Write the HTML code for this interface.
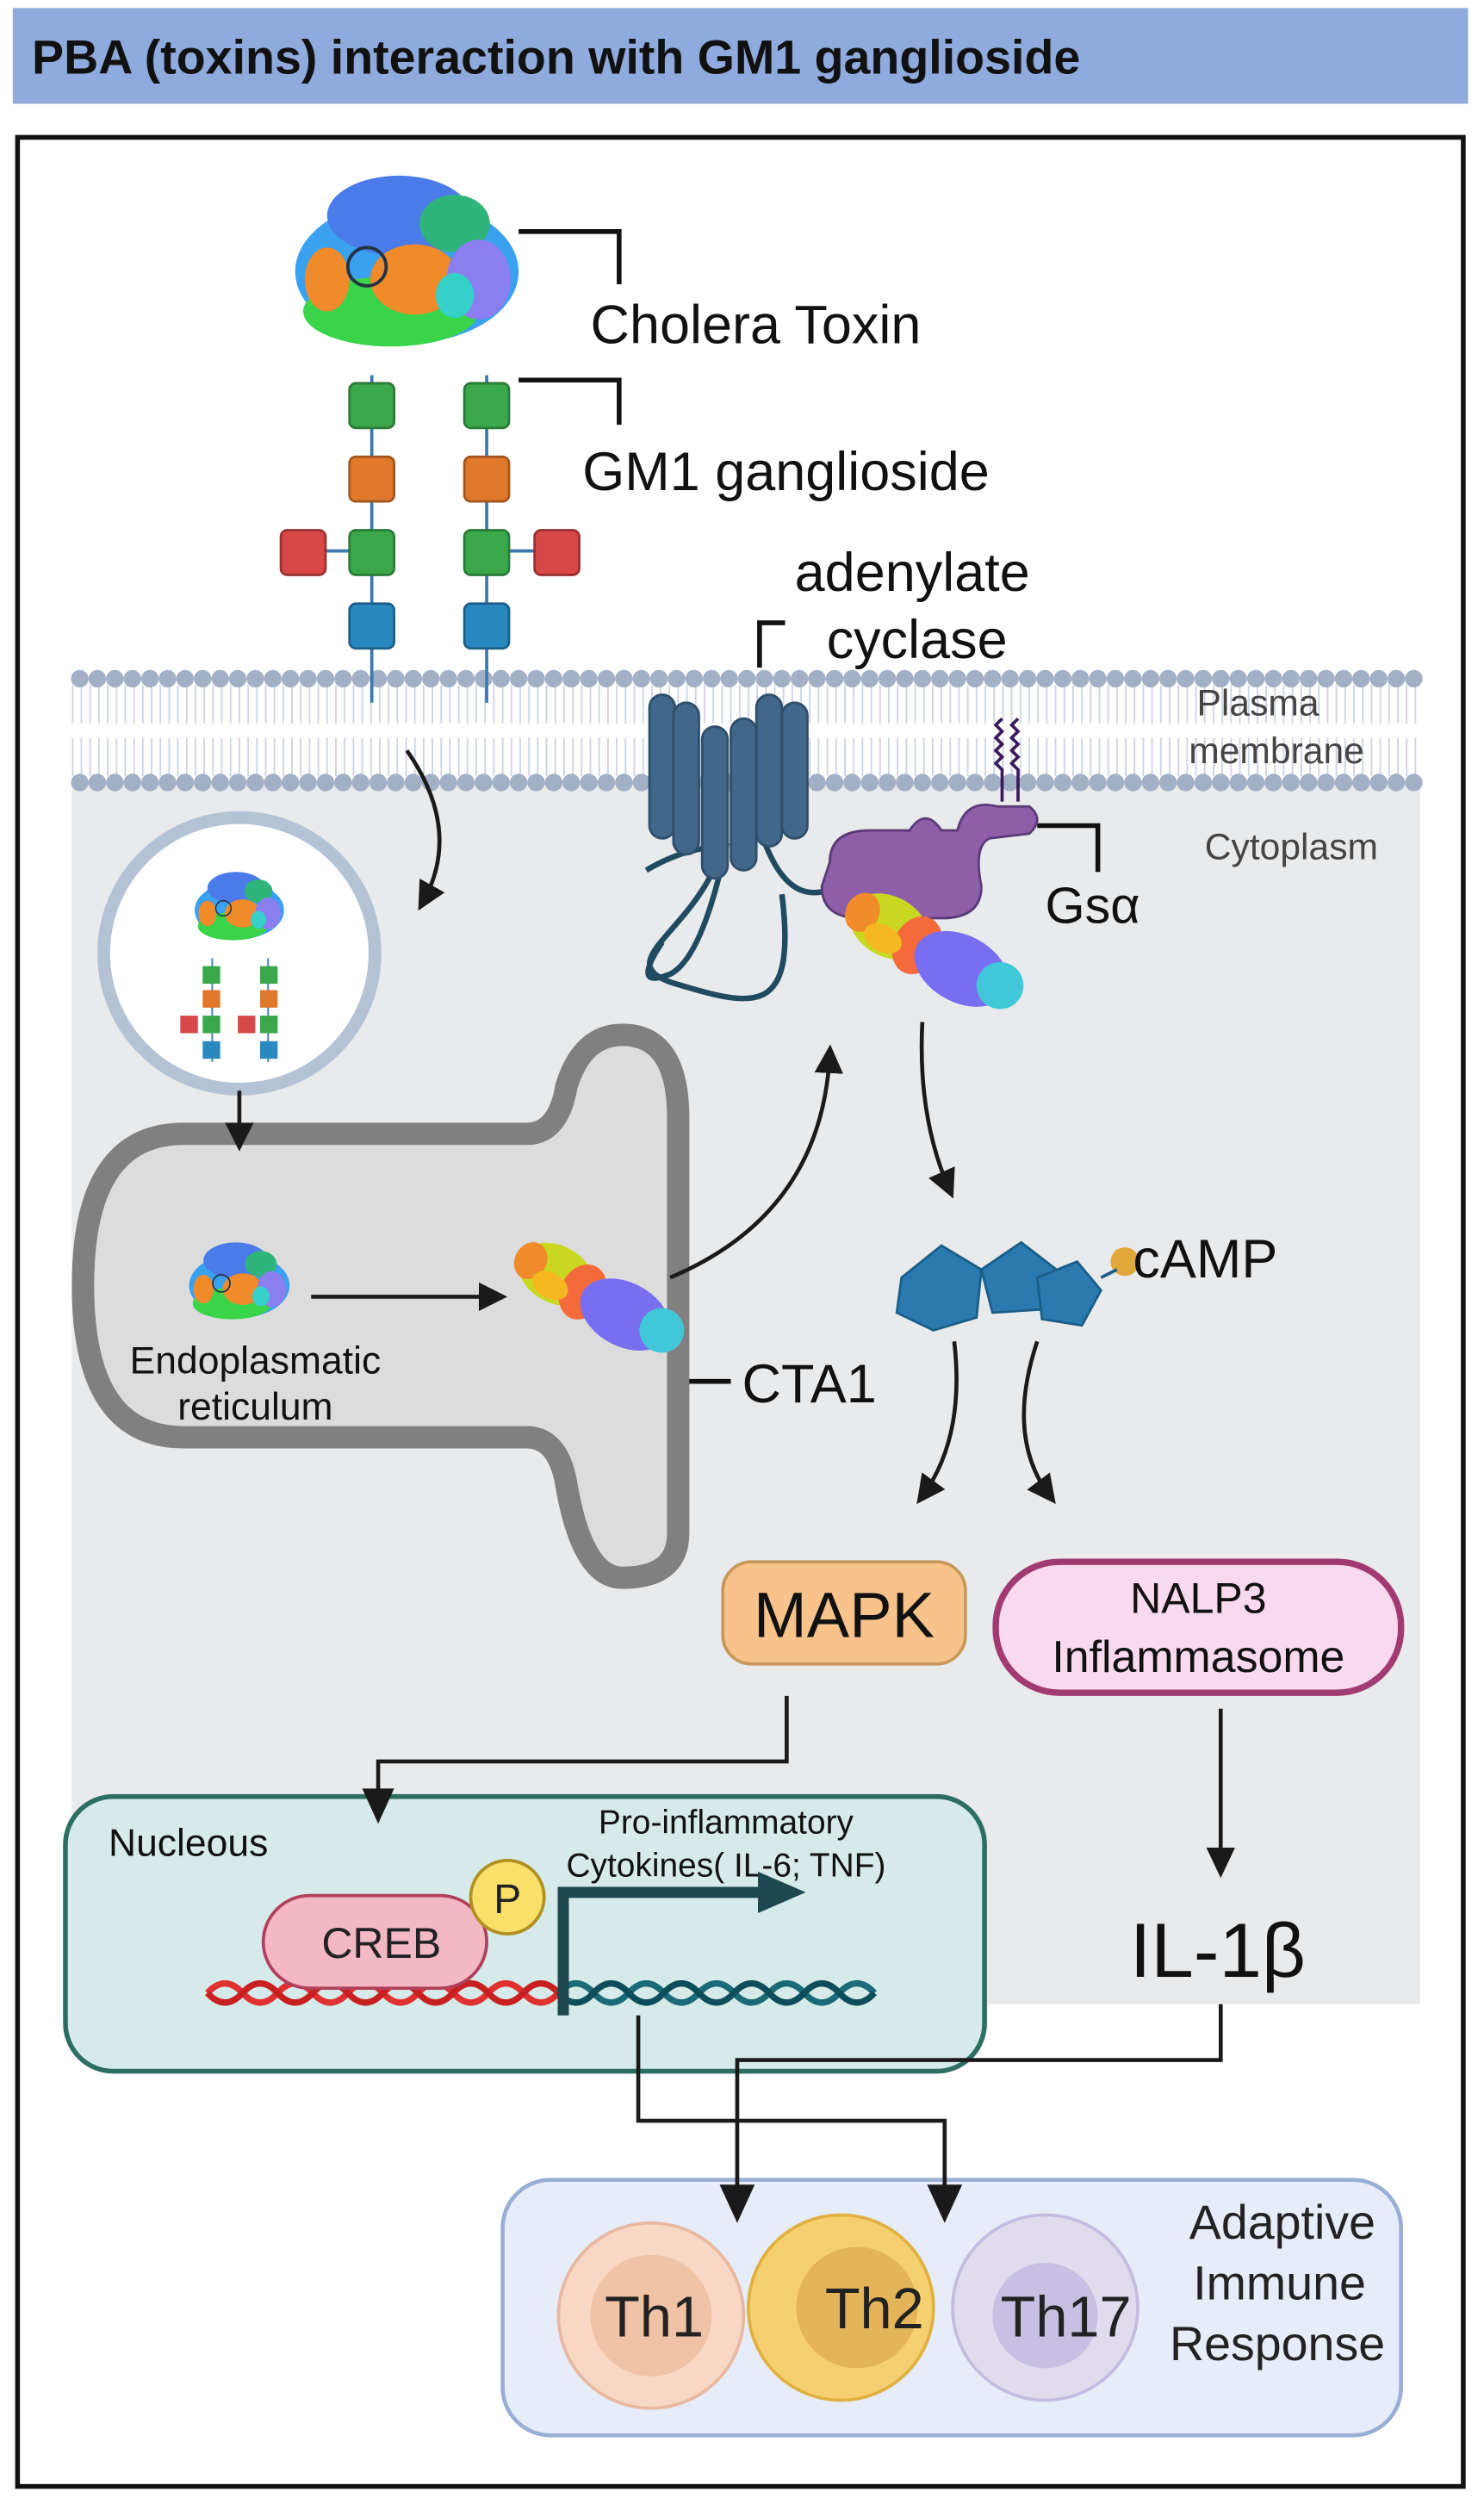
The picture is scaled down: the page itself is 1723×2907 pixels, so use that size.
<!DOCTYPE html>
<html><head><meta charset="utf-8"><style>
html,body{margin:0;padding:0;background:#fff}
svg{display:block}
text{font-family:"Liberation Sans",sans-serif}
</style></head><body>
<svg width="1723" height="2907" viewBox="0 0 930 1568" preserveAspectRatio="none" xmlns="http://www.w3.org/2000/svg">
<defs>
<marker id="ah2" markerWidth="18" markerHeight="18" refX="12" refY="9" orient="auto" markerUnits="userSpaceOnUse"><path d="M0,0 L18,9 L0,18 z" fill="#1a1a1a"/></marker>
<g id="toxin">
<ellipse cx="0" cy="0" rx="70" ry="45" fill="#3aa0f0"/>
<ellipse cx="-5" cy="-35" rx="45" ry="25" fill="#4a7be8"/>
<ellipse cx="30" cy="-30" rx="22" ry="18" fill="#2fb57a"/>
<ellipse cx="-10" cy="25" rx="55" ry="22" fill="#39d44a"/>
<ellipse cx="5" cy="5" rx="28" ry="22" fill="#f08a2a"/>
<ellipse cx="-50" cy="5" rx="14" ry="20" fill="#f08a2a"/>
<ellipse cx="45" cy="5" rx="20" ry="25" fill="#8a7ef0"/>
<ellipse cx="30" cy="15" rx="12" ry="14" fill="#35d0c8"/>
<circle cx="-25" cy="-3" r="12" fill="none" stroke="#234" stroke-width="2"/>
</g>
<g id="cta">
<g transform="rotate(28)">
<ellipse cx="-30" cy="0" rx="25" ry="18" fill="#c8d820"/>
<ellipse cx="-48" cy="0" rx="10" ry="12" fill="#f08a2a"/>
<ellipse cx="-10" cy="2" rx="14" ry="18" fill="#f46a3a"/>
<ellipse cx="20" cy="2" rx="30" ry="20" fill="#7a6ef0"/>
<ellipse cx="45" cy="0" rx="14" ry="14" fill="#40c8d8"/>
<ellipse cx="-30" cy="8" rx="12" ry="8" fill="#f6b820"/>
</g>
</g>
</defs>
<rect x="8" y="5" width="912" height="60" fill="#8faadc"/>
<text x="20" y="46" font-size="30" font-weight="bold" fill="#111">PBA (toxins) interaction with  GM1 ganglioside</text>
<rect x="11" y="86" width="906" height="1471" fill="#fff" stroke="#111" stroke-width="3"/>
<rect x="45" y="490" width="845" height="765" fill="#e8eaec"/>
<g stroke="#cdd4e4">
<path d="M45,433 H890 M45,441 H890 M45,449 H890 M45,466 H890 M45,474 H890 M45,482 H890" stroke-dasharray="1 4.5" stroke-width="8"/>
</g>
<line x1="50" y1="425" x2="890" y2="425" stroke="#a2b0c6" stroke-width="11" stroke-dasharray="0 11" stroke-linecap="round"/>
<line x1="50" y1="490" x2="890" y2="490" stroke="#a2b0c6" stroke-width="11" stroke-dasharray="0 11" stroke-linecap="round"/>
<text x="750" y="448" font-size="23" fill="#444">Plasma</text>
<text x="745" y="478" font-size="23" fill="#444">membrane</text>
<text x="755" y="538" font-size="23" fill="#444">Cytoplasm</text>
<use href="#toxin" transform="translate(255,170)"/>
<g stroke="#3a7ab0" stroke-width="2">
<line x1="233" y1="235" x2="233" y2="440"/><line x1="305" y1="235" x2="305" y2="440"/>
<line x1="190" y1="345" x2="233" y2="345"/><line x1="305" y1="345" x2="350" y2="345"/>
</g>
<g stroke-width="1.5">
<rect x="219" y="240" width="28" height="28" rx="4" fill="#3aa84a" stroke="#2a7a38"/>
<rect x="291" y="240" width="28" height="28" rx="4" fill="#3aa84a" stroke="#2a7a38"/>
<rect x="219" y="286" width="28" height="28" rx="4" fill="#e0782a" stroke="#a0561e"/>
<rect x="291" y="286" width="28" height="28" rx="4" fill="#e0782a" stroke="#a0561e"/>
<rect x="219" y="332" width="28" height="28" rx="4" fill="#3aa84a" stroke="#2a7a38"/>
<rect x="291" y="332" width="28" height="28" rx="4" fill="#3aa84a" stroke="#2a7a38"/>
<rect x="176" y="332" width="28" height="28" rx="4" fill="#d84848" stroke="#9a3030"/>
<rect x="335" y="332" width="28" height="28" rx="4" fill="#d84848" stroke="#9a3030"/>
<rect x="219" y="378" width="28" height="28" rx="4" fill="#2a88c0" stroke="#1a5e88"/>
<rect x="291" y="378" width="28" height="28" rx="4" fill="#2a88c0" stroke="#1a5e88"/>
</g>
<g stroke="#111" stroke-width="3" fill="none">
<polyline points="325,145 388,145 388,178"/>
<polyline points="325,238 388,238 388,266"/>
<polyline points="476,418 476,390 492,390"/>
<polyline points="650,517 688,517 688,546"/>
<polyline points="397,838 397,865 458,865"/>
</g>
<text x="370" y="215" font-size="34" fill="#111">Cholera Toxin</text>
<text x="365" y="307" font-size="34" fill="#111">GM1 ganglioside</text>
<text x="498" y="370" font-size="34" fill="#111">adenylate</text>
<text x="518" y="412" font-size="34" fill="#111">cyclase</text>
<text x="655" y="578" font-size="32" fill="#111">Gsα</text>
<g fill="none" stroke="#1f4a60" stroke-width="3.5">
<path d="M405,545 Q430,530 455,530 Q440,600 420,610 Q395,620 415,590"/>
<path d="M455,520 C445,580 380,600 420,615 C470,630 500,640 490,560"/>
<path d="M475,515 C500,600 540,530 540,560"/>
</g>
<g fill="#41688a" stroke="#2e4e6a" stroke-width="1.5">
<rect x="407" y="435" width="16" height="90" rx="8"/>
<rect x="422" y="440" width="16" height="95" rx="8"/>
<rect x="440" y="455" width="16" height="95" rx="8"/>
<rect x="458" y="450" width="16" height="95" rx="8"/>
<rect x="474" y="435" width="16" height="95" rx="8"/>
<rect x="490" y="440" width="16" height="85" rx="8"/>
</g>
<g stroke="#3a1a5a" stroke-width="2" fill="none">
<path d="M628,450 l-4,4 4,4 -4,4 4,4 -4,4 4,4 -4,4 4,4 v20"/>
<path d="M638,450 l-4,4 4,4 -4,4 4,4 -4,4 4,4 -4,4 4,4 v20"/>
</g>
<path d="M520,540 Q520,520 545,520 L570,520 Q580,505 590,520 L600,520 Q605,500 625,505 L645,505 Q655,513 645,522 L620,525 Q610,530 615,555 Q615,575 590,575 L540,575 Q515,575 515,555 Z" fill="#8e5ea8" stroke="#5a3a78" stroke-width="1.5"/>
<use href="#cta" transform="translate(585,595) scale(1.05)"/>
<circle cx="150" cy="597" r="85" fill="#fff" stroke="#b4c2d6" stroke-width="8"/>
<use href="#toxin" transform="translate(150,570) scale(0.4)"/>
<g stroke="#3a7ab0" stroke-width="1"><line x1="133" y1="600" x2="133" y2="665"/><line x1="168" y1="600" x2="168" y2="665"/></g>
<g>
<rect x="127" y="605" width="11" height="11" fill="#3aa84a"/><rect x="163" y="605" width="11" height="11" fill="#3aa84a"/>
<rect x="127" y="620" width="11" height="11" fill="#e0782a"/><rect x="163" y="620" width="11" height="11" fill="#e0782a"/>
<rect x="127" y="636" width="11" height="11" fill="#3aa84a"/><rect x="163" y="636" width="11" height="11" fill="#3aa84a"/>
<rect x="113" y="636" width="11" height="11" fill="#d84848"/><rect x="149" y="636" width="11" height="11" fill="#d84848"/>
<rect x="127" y="652" width="11" height="11" fill="#2a88c0"/><rect x="163" y="652" width="11" height="11" fill="#2a88c0"/>
</g>
<path d="M115,710 L330,710 Q350,710 355,680 Q365,648 390,648 Q425,648 425,700 L425,960 Q425,988 390,988 Q365,988 355,930 Q350,900 330,900 L115,900 Q52,900 52,805 Q52,710 115,710 Z" fill="#dcdcdc" stroke="#808080" stroke-width="14"/>
<use href="#toxin" transform="translate(150,805) scale(0.45)"/>
<use href="#cta" transform="translate(375,812)"/>
<text x="160" y="860" font-size="24" fill="#111" text-anchor="middle">Endoplasmatic</text>
<text x="160" y="889" font-size="24" fill="#111" text-anchor="middle">reticulum</text>
<text x="465" y="878" font-size="34" fill="#111">CTA1</text>
<g stroke="#1a1a1a" stroke-width="2.5" fill="none">
<path d="M255,470 Q290,520 265,565" marker-end="url(#ah2)"/>
<line x1="150" y1="683" x2="150" y2="715" marker-end="url(#ah2)"/>
<line x1="195" y1="812" x2="312" y2="812" marker-end="url(#ah2)"/>
<path d="M420,800 Q515,760 520,660" marker-end="url(#ah2)"/>
<path d="M578,640 Q575,700 595,745" marker-end="url(#ah2)"/>
<path d="M598,840 Q605,900 578,937" marker-end="url(#ah2)"/>
<path d="M650,840 Q630,900 658,937" marker-end="url(#ah2)"/>
</g>
<g fill="#2a7ab0" stroke="#1a5e88" stroke-width="1.5">
<polygon points="565,800 590,780 615,795 612,825 585,833 562,822"/>
<polygon points="615,795 640,778 662,795 652,820 622,822"/>
<polygon points="650,800 675,790 690,808 678,830 653,826"/>
</g>
<circle cx="705" cy="790" r="9" fill="#e0a83a"/>
<line x1="690" y1="800" x2="700" y2="795" stroke="#1a5e88" stroke-width="2"/>
<text x="710" y="800" font-size="34" fill="#111">cAMP</text>
<rect x="453" y="978" width="152" height="64" rx="18" fill="#f8c38a" stroke="#c8985a" stroke-width="2"/>
<text x="529" y="1025" font-size="40" fill="#111" text-anchor="middle">MAPK</text>
<rect x="624" y="978" width="254" height="82" rx="40" fill="#f8d9ee" stroke="#a03a70" stroke-width="4"/>
<text x="751" y="1010" font-size="27" fill="#111" text-anchor="middle">NALP3</text>
<text x="751" y="1047" font-size="28" fill="#111" text-anchor="middle">Inflammasome</text>
<rect x="41" y="1125" width="576" height="172" rx="30" fill="#d6ebe9" stroke="#2c6e62" stroke-width="3"/>
<text x="68" y="1162" font-size="24" fill="#111">Nucleous</text>
<text x="455" y="1148" font-size="21" fill="#111" text-anchor="middle">Pro-inflammatory</text>
<text x="455" y="1175" font-size="21" fill="#111" text-anchor="middle">Cytokines( IL-6; TNF)</text>
<g fill="none" stroke-width="4">
<path d="M130,1248 q11,-12 22,0 t22,0 t22,0 t22,0 t22,0 t22,0 t22,0 t22,0 t22,0 t22,0" stroke="#e03030"/>
<path d="M130,1248 q11,12 22,0 t22,0 t22,0 t22,0 t22,0 t22,0 t22,0 t22,0 t22,0 t22,0" stroke="#c82020"/>
<path d="M350,1248 q11,-12 22,0 t22,0 t22,0 t22,0 t22,0 t22,0 t22,0 t22,0 t22,0" stroke="#1a6a78"/>
<path d="M350,1248 q11,12 22,0 t22,0 t22,0 t22,0 t22,0 t22,0 t22,0 t22,0 t22,0" stroke="#0e4e5a"/>
</g>
<rect x="165" y="1187" width="140" height="58" rx="29" fill="#f4b8c4" stroke="#b0405a" stroke-width="2"/>
<text x="239" y="1226" font-size="27" fill="#222" text-anchor="middle">CREB</text>
<circle cx="318" cy="1188" r="23" fill="#f8e06a" stroke="#b09020" stroke-width="2"/>
<text x="318" y="1198" font-size="26" fill="#222" text-anchor="middle">P</text>
<path d="M353,1262 L353,1185 L478,1185" stroke="#1e4850" stroke-width="7" fill="none"/>
<polygon points="475,1172 505,1185 475,1198" fill="#1e4850"/>
<text x="708" y="1238" font-size="48" fill="#111">IL-1β</text>
<rect x="315" y="1365" width="563" height="160" rx="30" fill="#e6ecf8" stroke="#98aed4" stroke-width="2.5"/>
<circle cx="408" cy="1450" r="58" fill="#f8d8c4" stroke="#e8b8a0" stroke-width="2"/>
<circle cx="408" cy="1450" r="38" fill="#f0c2a6"/>
<circle cx="527" cy="1445" r="58" fill="#f6d070" stroke="#e0b040" stroke-width="2"/>
<circle cx="537" cy="1445" r="38" fill="#e4b458"/>
<circle cx="655" cy="1445" r="58" fill="#e0dcee" stroke="#c4bce0" stroke-width="2"/>
<circle cx="655" cy="1450" r="33" fill="#c8c0e2"/>
<text x="410" y="1463" font-size="36" fill="#222" text-anchor="middle">Th1</text>
<text x="548" y="1458" font-size="36" fill="#222" text-anchor="middle">Th2</text>
<text x="668" y="1463" font-size="36" fill="#222" text-anchor="middle">Th17</text>
<text x="862" y="1402" font-size="30" fill="#222" text-anchor="end">Adaptive</text>
<text x="856" y="1440" font-size="30" fill="#222" text-anchor="end">Immune</text>
<text x="868" y="1478" font-size="30" fill="#222" text-anchor="end">Response</text>
<!-- connectors on top -->
<g stroke="#1a1a1a" stroke-width="2.5" fill="none">
<polyline points="493,1062 493,1103 237,1103 237,1125"/>
<line x1="765" y1="1070" x2="765" y2="1160"/>
<polyline points="765,1255 765,1290 462,1290 462,1372"/>
<polyline points="400,1262 400,1328 592,1328 592,1372"/>
</g>
<polygon points="227,1120 247,1120 237,1142" fill="#1a1a1a"/>
<polygon points="756,1157 774,1157 765,1176" fill="#1a1a1a"/>
<polygon points="451,1368 473,1368 462,1392" fill="#1a1a1a"/>
<polygon points="581,1368 603,1368 592,1392" fill="#1a1a1a"/>
</svg>
</body></html>
